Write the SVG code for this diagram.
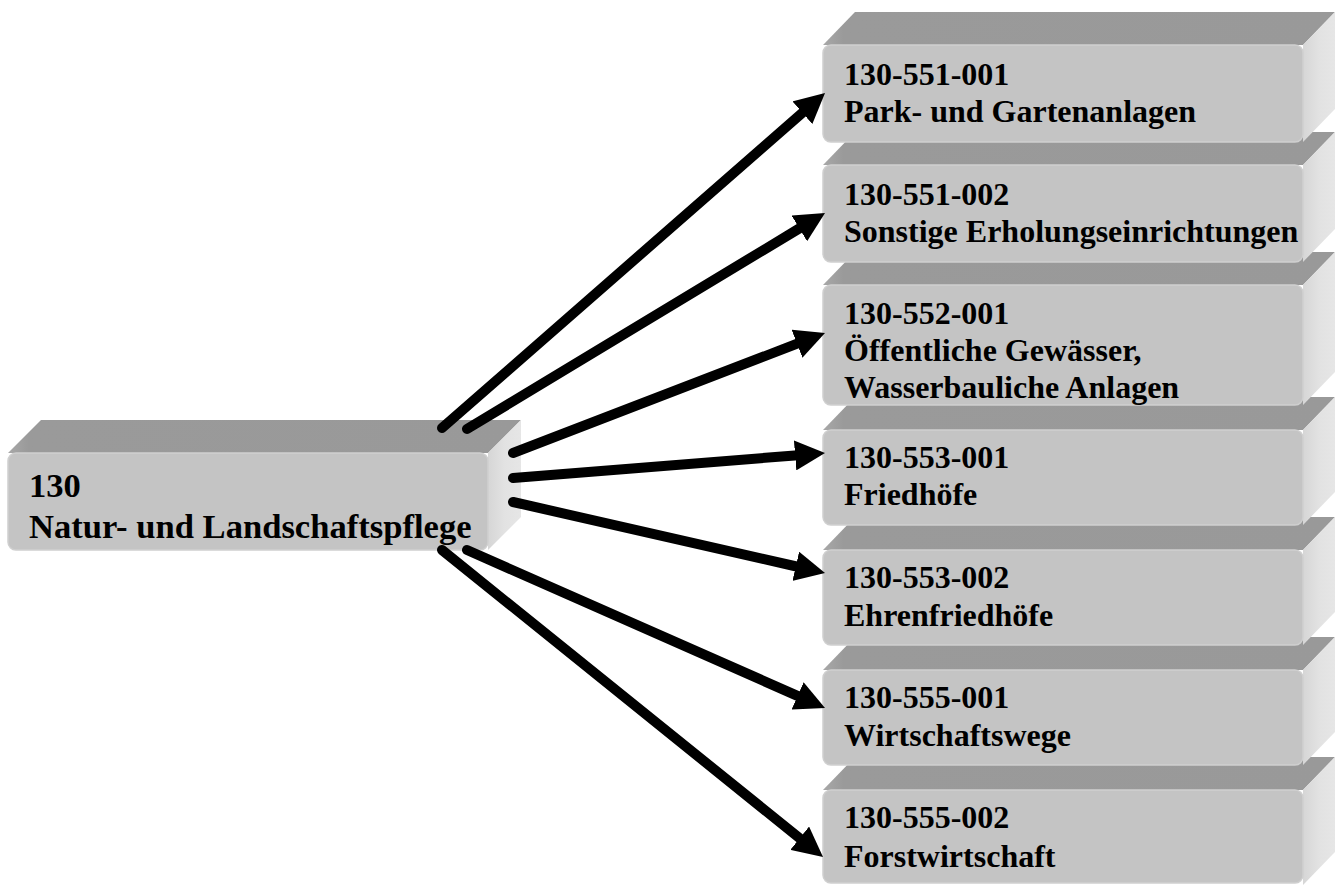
<svg xmlns="http://www.w3.org/2000/svg" width="1335" height="885" viewBox="0 0 1335 885">
<defs>
<linearGradient id="side" x1="0" y1="0" x2="1" y2="0">
<stop offset="0" stop-color="#d6d6d6"/>
<stop offset="0.5" stop-color="#e2e2e2"/>
<stop offset="1" stop-color="#e6e6e6"/>
</linearGradient>
<linearGradient id="topg" x1="0" y1="0" x2="1" y2="0">
<stop offset="0" stop-color="#a8a8a8"/>
<stop offset="0.04" stop-color="#9a9a9a"/>
<stop offset="1" stop-color="#999999"/>
</linearGradient>
<marker id="ah" markerUnits="strokeWidth" markerWidth="3" markerHeight="3" refX="0.3" refY="1.5" orient="auto">
<path d="M0,0 L3,1.5 L0,3 z" fill="#000"/>
</marker>
</defs>
<style>
.top{fill:url(#topg)}
.side{fill:url(#side)}
.front{fill:#c4c4c4;stroke:#cfcfcf;stroke-width:1.5}
.t{font-family:"Liberation Serif","Times New Roman",serif;font-weight:bold;font-size:32px;fill:#000}
.tm{font-size:34.6px}
.c{stroke:#000;stroke-width:10;stroke-linecap:round;fill:none;marker-end:url(#ah)}
</style>
<rect width="1335" height="885" fill="#fff"/>

<g id="n7">
<polygon class="top" points="823,790 855,757 1335,757 1303,790"/>
<polygon class="side" points="1303,790 1335,757 1335,852 1303,885"/>
<rect class="front" x="823" y="790" width="480" height="93" rx="8"/>
<text class="t" x="844" y="828">130-555-002</text>
<text class="t" x="844" y="867">Forstwirtschaft</text>
</g>
<g id="n6">
<polygon class="top" points="823,670 855,637 1335,637 1303,670"/>
<polygon class="side" points="1303,670 1335,637 1335,732 1303,765"/>
<rect class="front" x="823" y="670" width="480" height="95" rx="8"/>
<text class="t" x="844" y="708">130-555-001</text>
<text class="t" x="844" y="746">Wirtschaftswege</text>
</g>
<g id="n5">
<polygon class="top" points="823,550 855,517 1335,517 1303,550"/>
<polygon class="side" points="1303,550 1335,517 1335,612 1303,645"/>
<rect class="front" x="823" y="550" width="480" height="95" rx="8"/>
<text class="t" x="844" y="588">130-553-002</text>
<text class="t" x="844" y="626">Ehrenfriedhöfe</text>
</g>
<g id="n4">
<polygon class="top" points="823,430 855,397 1335,397 1303,430"/>
<polygon class="side" points="1303,430 1335,397 1335,492 1303,525"/>
<rect class="front" x="823" y="430" width="480" height="95" rx="8"/>
<text class="t" x="844" y="468">130-553-001</text>
<text class="t" x="844" y="505">Friedhöfe</text>
</g>
<g id="n3">
<polygon class="top" points="823,285 855,252 1335,252 1303,285"/>
<polygon class="side" points="1303,285 1335,252 1335,372 1303,405"/>
<rect class="front" x="823" y="285" width="480" height="120" rx="8"/>
<text class="t" x="844" y="324">130-552-001</text>
<text class="t" x="844" y="361">Öffentliche Gewässer,</text>
<text class="t" x="844" y="398">Wasserbauliche Anlagen</text>
</g>
<g id="n2">
<polygon class="top" points="823,165 855,132 1335,132 1303,165"/>
<polygon class="side" points="1303,165 1335,132 1335,229 1303,262"/>
<rect class="front" x="823" y="165" width="480" height="97" rx="8"/>
<text class="t" x="844" y="205">130-551-002</text>
<text class="t" x="844" y="242">Sonstige Erholungseinrichtungen</text>
</g>
<g id="n1">
<polygon class="top" points="823,45 855,12 1335,12 1303,45"/>
<polygon class="side" points="1303,45 1335,12 1335,109 1303,142"/>
<rect class="front" x="823" y="45" width="480" height="97" rx="8"/>
<text class="t" x="844" y="85">130-551-001</text>
<text class="t" x="844" y="122">Park- und Gartenanlagen</text>
</g>

<g id="n0">
<polygon class="top" points="8,453 41,420 521,420 488,453"/>
<polygon class="side" points="488,453 521,420 521,517 488,550"/>
<rect class="front" x="8" y="453" width="480" height="97" rx="8"/>
<text class="t tm" x="29" y="497">130</text>
<text class="t tm" x="29" y="538">Natur- und Landschaftspflege</text>
</g>

<g id="connectors">
<line class="c" x1="442" y1="428" x2="804.7" y2="110.8"/>
<line class="c" x1="467" y1="429" x2="801.9" y2="226.9"/>
<line class="c" x1="513" y1="453" x2="799.8" y2="342.7"/>
<line class="c" x1="513" y1="478" x2="798.1" y2="455.2"/>
<line class="c" x1="513" y1="502" x2="798.7" y2="567.0"/>
<line class="c" x1="467" y1="550" x2="800.3" y2="697.1"/>
<line class="c" x1="442" y1="550" x2="802.0" y2="840.1"/>
</g>
</svg>
